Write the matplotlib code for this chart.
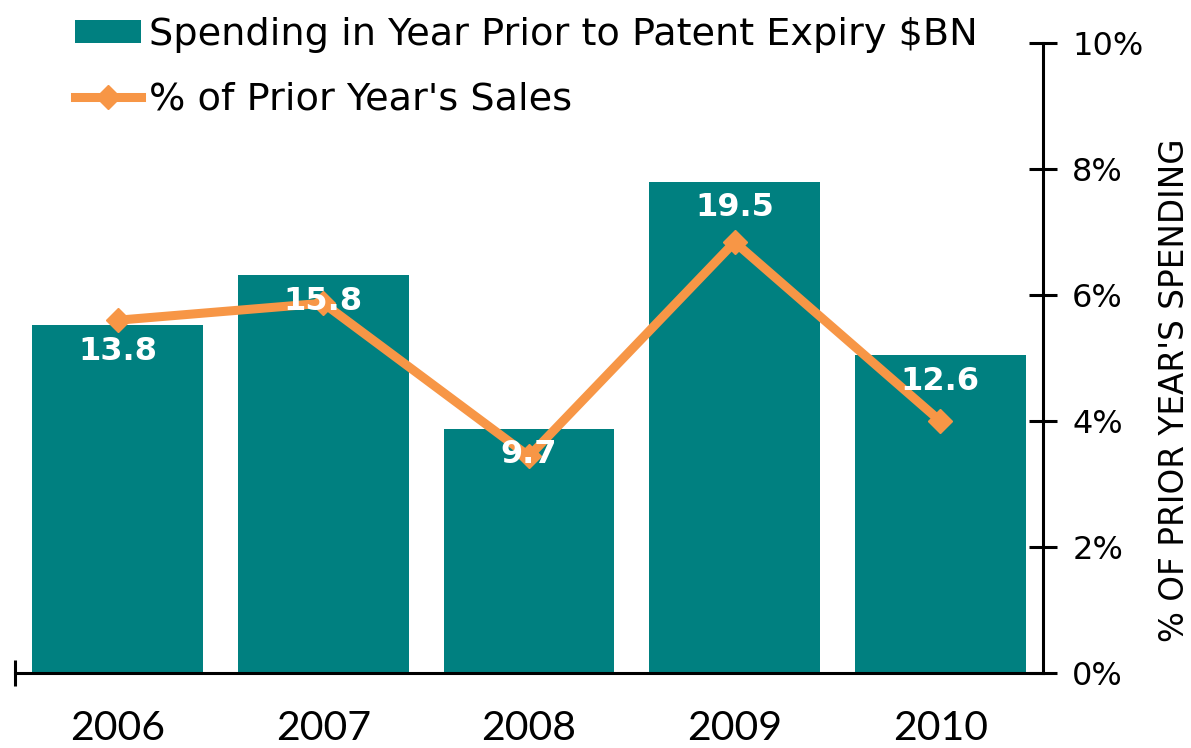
import matplotlib
matplotlib.use("Agg")
import matplotlib.pyplot as plt
from matplotlib.ticker import FuncFormatter, FixedLocator

years = ["2006", "2007", "2008", "2009", "2010"]
spending = [13.8, 15.8, 9.7, 19.5, 12.6]
pct_sales = [5.6, 5.87, 3.44, 6.84, 4.0]
pct_ticks = [0, 2, 4, 6, 8, 10]

teal = "#008080"
orange = "#F79646"

fig = plt.figure(figsize=(11.91, 7.48), dpi=100)
ax = fig.add_axes([15/1191, 1 - 673/748, (1043-15)/1191, (673-43)/748])
ax2 = ax.twinx()

x = list(range(len(years)))
bars = ax.bar(x, spending, width=0.83, color=teal, zorder=2,
              label="Spending in Year Prior to Patent Expiry $BN")
ax.set_xlim(-0.5, len(years) - 0.5)
ax.set_ylim(0, 25)

line, = ax2.plot(x, pct_sales, color=orange, lw=6.5, marker="D", markersize=12,
                 label="% of Prior Year's Sales", zorder=4)
ax2.set_ylim(0, 10)
ax2.yaxis.set_major_locator(FixedLocator(pct_ticks))
ax2.yaxis.set_major_formatter(FuncFormatter(lambda v, p: f"{v:.0f}%"))
ax2.tick_params(axis="y", direction="inout", length=20, width=2.2, pad=11,
                labelsize=23, colors="black")
ax2.set_ylabel("% OF PRIOR YEAR'S SPENDING", fontsize=23.5, family="DejaVu Sans")
ax2.yaxis.set_label_coords((1158 - 15) / (1043 - 15), (673 - 390) / (673 - 43))

# value labels drawn above the line
for xi, v in zip(x, spending):
    ax2.annotate(f"{v}", (xi, v / 2.5), xytext=(0, -19), textcoords="offset points",
                 ha="center", va="center", color="white", fontsize=23,
                 fontweight="bold", family="DejaVu Sans", zorder=6)

for a in (ax, ax2):
    a.spines["top"].set_visible(False)
    a.spines["left"].set_visible(False)
    a.spines["right"].set_visible(False)
ax2.spines["right"].set_visible(True)
ax2.spines["right"].set_linewidth(2.2)
ax.spines["bottom"].set_linewidth(2.2)
ax2.spines["bottom"].set_visible(False)

ax.set_yticks([])
ax.set_xticks(x)
ax.set_xticklabels(years, fontsize=29.5, family="Lato")
ax.tick_params(axis="x", length=0, pad=27)
ax.set_xticks([-0.5], minor=True)
ax.tick_params(axis="x", which="minor", direction="inout", length=19, width=2.2)

handles = [bars, line]
fig.legend(handles, [h.get_label() for h in handles], loc="upper left",
           bbox_to_anchor=(60/1191, 0.998), frameon=False, fontsize=27.5,
           handlelength=1.72, handleheight=0.55, handletextpad=0.2,
           labelspacing=0.76, borderaxespad=0.0)

fig.savefig("out.png", dpi=100)
